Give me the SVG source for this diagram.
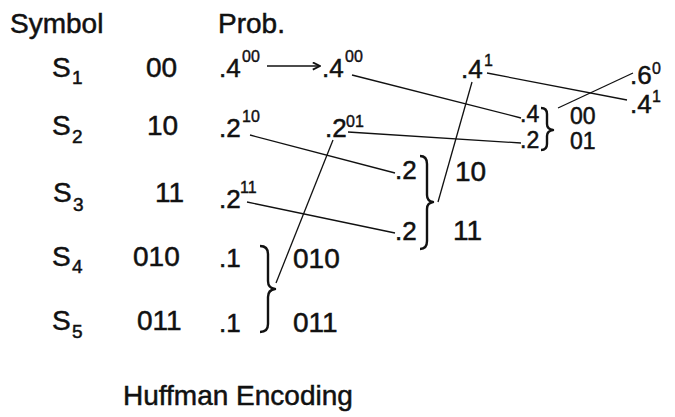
<svg xmlns="http://www.w3.org/2000/svg" width="675" height="417" viewBox="0 0 675 417">
<style>
text{font-family:"Liberation Sans",Arial,sans-serif;fill:#111;stroke:#111;stroke-width:0.5;font-size:28px}
.p{font-size:26px}
.q{font-size:23px}
.s{font-size:16px;stroke-width:0.4}
.b{font-size:19px}
.ln{stroke:#111;stroke-width:1.3;fill:none}
.br{stroke:#111;stroke-width:2.4;fill:none;stroke-linejoin:round}
</style>
<defs>
<marker id="ah" viewBox="0 0 10 10" refX="9" refY="5" markerWidth="9" markerHeight="9" markerUnits="userSpaceOnUse" orient="auto">
<path d="M1,1 L9,5 L1,9" fill="none" stroke="#111" stroke-width="2"/>
</marker>
</defs>
<rect width="675" height="417" fill="#fff"/>
<g id="headers">
<text x="10" y="33">Symbol</text>
<text x="218" y="33">Prob.</text>
</g>
<g id="symbols">
<text x="52" y="77">S</text><text class="b" x="72" y="84">1</text>
<text x="52" y="135">S</text><text class="b" x="72" y="143">2</text>
<text x="53" y="202">S</text><text class="b" x="73" y="211">3</text>
<text x="52" y="266">S</text><text class="b" x="72" y="273">4</text>
<text x="52" y="330">S</text><text class="b" x="72" y="338">5</text>
</g>
<g id="codes">
<text x="146" y="77">00</text>
<text x="147" y="135">10</text>
<text x="155" y="202">11</text>
<text x="133" y="266">010</text>
<text x="137" y="330">011</text>
</g>
<g id="col1">
<text class="p" x="219" y="77">.4</text><text class="s" x="242" y="62">00</text>
<text class="p" x="219" y="137">.2</text><text class="s" x="242" y="122">10</text>
<text class="p" x="219" y="208">.2</text><text class="s" x="240" y="193">11</text>
<text class="p" x="219" y="267">.1</text>
<text class="p" x="219" y="332">.1</text>
<path class="br" d="M260,246 Q268,246 268,254 L268,281 Q268,288 275,289 Q268,290 268,297 L268,324 Q268,332 260,332"/>
<text x="293" y="268">010</text>
<text x="293" y="332">011</text>
</g>
<g id="col2">
<text class="p" x="322" y="77">.4</text><text class="s" x="345" y="62">00</text>
<text class="p" x="325" y="137">.2</text><text class="s" x="346" y="127">01</text>
</g>
<g id="col3">
<text class="p" x="461" y="78">.4</text><text class="s" x="484" y="66">1</text>
<text class="p" x="395" y="179">.2</text>
<text class="p" x="395" y="240">.2</text>
<path class="br" d="M420,156 Q427,156 427,164 L427,195 Q427,201 433,202 Q427,203 427,209 L427,241 Q427,249 420,249"/>
<text x="455" y="181">10</text>
<text x="453" y="240">11</text>
</g>
<g id="col4">
<text class="q" x="520" y="122">.4</text>
<text class="q" x="520" y="148">.2</text>
<path class="br" d="M541,108 Q547,108 547,114 L547,124 Q547,129 553,130 Q547,131 547,136 L547,144 Q547,150 541,150"/>
<text class="q" x="570" y="124">00</text>
<text class="q" x="570" y="149">01</text>
</g>
<g id="col5">
<text class="p" x="630" y="84">.6</text><text class="s" x="652" y="74">0</text>
<text class="p" x="630" y="113">.4</text><text class="s" x="652" y="102">1</text>
</g>
<g id="connectors">
<line class="ln" x1="267" y1="66" x2="320" y2="66" marker-end="url(#ah)"/>
<line class="ln" x1="352" y1="75" x2="521" y2="118"/>
<line class="ln" x1="348" y1="132" x2="521" y2="143"/>
<line class="ln" x1="250" y1="135" x2="395" y2="173"/>
<line class="ln" x1="247" y1="202" x2="395" y2="233"/>
<line class="ln" x1="276" y1="283" x2="333" y2="140"/>
<line class="ln" x1="438" y1="202" x2="472" y2="82"/>
<line class="ln" x1="487" y1="73" x2="627" y2="100"/>
<line class="ln" x1="558" y1="108" x2="633" y2="73"/>
</g>
<g id="caption">
<text x="123" y="405">Huffman Encoding</text>
</g>
</svg>
